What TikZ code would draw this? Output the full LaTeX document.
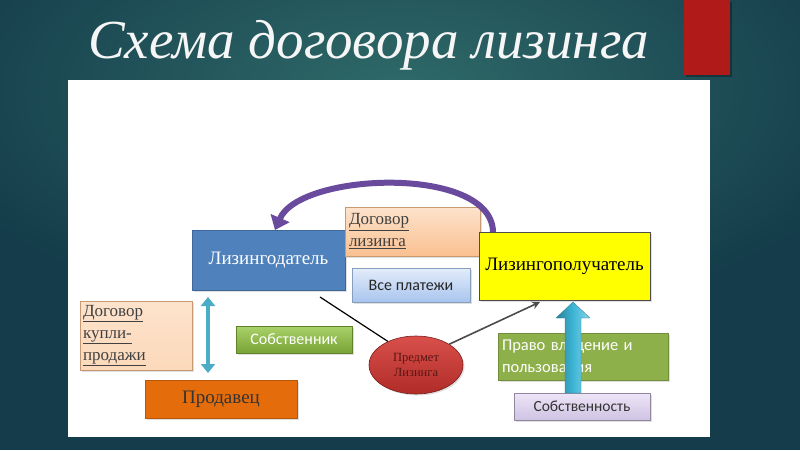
\documentclass[tikz,border=0pt]{standalone}
\usepackage{fontspec}
\setmainfont{Liberation Serif}
\newfontfamily\carl{Carlito}
\usetikzlibrary{shapes.geometric,arrows.meta,shadows}
\definecolor{bgdark}{HTML}{143C4A}
\definecolor{bglight}{HTML}{2F6A69}
\definecolor{redbar}{HTML}{B01A18}
\definecolor{ldblue}{HTML}{4F81BD}
\definecolor{peach}{HTML}{FAC090}
\definecolor{peachl}{HTML}{FDE3CC}
\definecolor{lpyellow}{HTML}{FFFF00}
\definecolor{payl}{HTML}{E3ECFA}
\definecolor{payd}{HTML}{A9C5EE}
\definecolor{grl}{HTML}{A9D26A}
\definecolor{grd}{HTML}{78A335}
\definecolor{prodorange}{HTML}{E46C0A}
\definecolor{ellredl}{HTML}{D9504B}
\definecolor{ellredd}{HTML}{B02C28}
\definecolor{olive}{HTML}{8EB04A}
\definecolor{lavl}{HTML}{EDE5F7}
\definecolor{lavd}{HTML}{CFC3E3}
\definecolor{cyanarr}{HTML}{3DB6D6}
\definecolor{purplearc}{HTML}{6A4A9C}
\definecolor{dblarrow}{HTML}{4BACC6}
\tikzset{
  boxbase/.style={rectangle, inner sep=0pt, outer sep=0pt, drop shadow={shadow xshift=1.5pt, shadow yshift=-1.5pt, opacity=0.25}},
  peachbox/.style={boxbase, top color=peachl, bottom color=peach, draw=peach!80!black, line width=0.4pt, align=left, text=black!75, font=\fontsize{17}{22}\selectfont},
  sanstext/.style={font=\carl\fontsize{16}{19}\selectfont},
}
\begin{document}
\begin{tikzpicture}[x=1pt,y=-1pt]
\useasboundingbox (0,0) rectangle (800,450);
% background
\fill[bgdark] (0,0) rectangle (800,450);
\shade[inner color=bglight, outer color=bgdark] (-100,-150) rectangle (900,330);
% red bar
\fill[black, opacity=0.3] (686,2) rectangle (732,77);
\fill[redbar] (684,0) rectangle (730,75);
% title
\node[anchor=base west, text=white!93!gray, inner sep=0pt, font=\itshape\fontsize{55}{62}\selectfont] (title) at (88,58) {Схема договора лизинга};
% white panel
\fill[white] (68,80) rectangle (710,437);

% nodes
\node[boxbase, fill=ldblue, draw=ldblue!80!black, line width=0.4pt, minimum width=153pt, minimum height=60pt, anchor=north west, text=white, font=\fontsize{19}{22}\selectfont] (ld) at (192,230) {Лизингодатель};
\node[peachbox, minimum width=135pt, minimum height=49pt, anchor=north west, text width=127pt, inner xsep=4pt] (dl) at (345,207) {\underline{Договор}\\\underline{лизинга}};
\node[boxbase, fill=lpyellow, draw=black!70, line width=0.6pt, minimum width=171pt, minimum height=68pt, anchor=north west, font=\fontsize{19}{22}\selectfont] (lp) at (479,232) {Лизингополучатель};
\node[boxbase, top color=payl, bottom color=payd, draw=payd!80!black, line width=0.4pt, minimum width=118pt, minimum height=34pt, anchor=north west, sanstext, text=black!85] (vp) at (352,268) {Все платежи};
\node[peachbox, minimum width=112pt, minimum height=69pt, anchor=north west, text width=106pt, inner xsep=3pt, top color=peachl, bottom color=peachl!70!peach] (dk) at (80,301) {\underline{Договор}\\\underline{купли-}\\\underline{продажи}};
\node[boxbase, top color=grl, bottom color=grd, draw=grd!80!black, line width=0.4pt, minimum width=116pt, minimum height=27pt, anchor=north west, sanstext, text=white] (sob) at (236,326) {Собственник};
\node[boxbase, fill=prodorange, draw=prodorange!80!black, line width=0.4pt, minimum width=152pt, minimum height=38pt, anchor=north west, text=black!80, font=\fontsize{19}{22}\selectfont] (prod) at (145,380) {Продавец};
\node[ellipse, inner sep=0pt, minimum width=94pt, minimum height=58pt, top color=ellredl, bottom color=ellredd, draw=ellredd!70!black, line width=0.6pt, text=ellredd!50!black, align=center, font=\fontsize{12.5}{15}\selectfont, drop shadow={shadow xshift=1.5pt, shadow yshift=-1.5pt, opacity=0.25}] (pl) at (416,365) {Предмет\\Лизинга};
\node[boxbase, fill=olive, draw=olive!80!black, line width=0.4pt, minimum width=170pt, minimum height=47pt, anchor=north west, text width=162pt, inner xsep=4pt, align=left, font=\carl\fontsize{16.5}{22}\selectfont, text=white] (pv) at (498,333) {Право владение и\\пользования};
\node[boxbase, top color=lavl, bottom color=lavd, draw=lavd!70!black, line width=0.4pt, minimum width=136pt, minimum height=27pt, anchor=north west, font=\carl\fontsize{15.5}{19}\selectfont, text=black!80] (sb2) at (514,393) {Собственность};

% connectors
\coordinate (da) at ([xshift=16pt]ld.south west);
\coordinate (db) at (da |- prod.north);
\draw[dblarrow, line width=4pt, {Triangle[width=14pt,length=9pt]}-{Triangle[width=14pt,length=9pt]}] ([yshift=-7pt]da) -- ([yshift=7pt]db);
\draw[black, line width=1.2pt] ([shift={(-25pt,-7pt)}]ld.south east) -- (pl.140);
\draw[black!70, line width=1.6pt, -{Stealth[width=8pt,length=8pt]}] (pl.32) -- ([shift={(61pt,-2pt)}]lp.south west);
% big cyan arrow
\coordinate (ca) at ([xshift=59pt]sb2.north west);
\coordinate (cb) at ([yshift=-2pt]ca |- lp.south);
\shade[left color=cyanarr!70!black, right color=cyanarr!60!white, middle color=cyanarr, draw=cyanarr!70!black, line width=0.3pt]
  ([xshift=-8pt]ca) -- ([shift={(-8pt,-16pt)}]cb) -- ([shift={(-17pt,-16pt)}]cb) -- (cb) -- ([shift={(17pt,-16pt)}]cb) -- ([shift={(8pt,-16pt)}]cb) -- ([xshift=8pt]ca) -- cycle;
% purple arc
\draw[purplearc, line width=6pt, -{Triangle[width=20pt,length=13pt]}] ([xshift=14pt]lp.north west) .. controls (492,165) and (300,172) .. ([xshift=83pt]ld.north west);
\end{tikzpicture}
\end{document}
